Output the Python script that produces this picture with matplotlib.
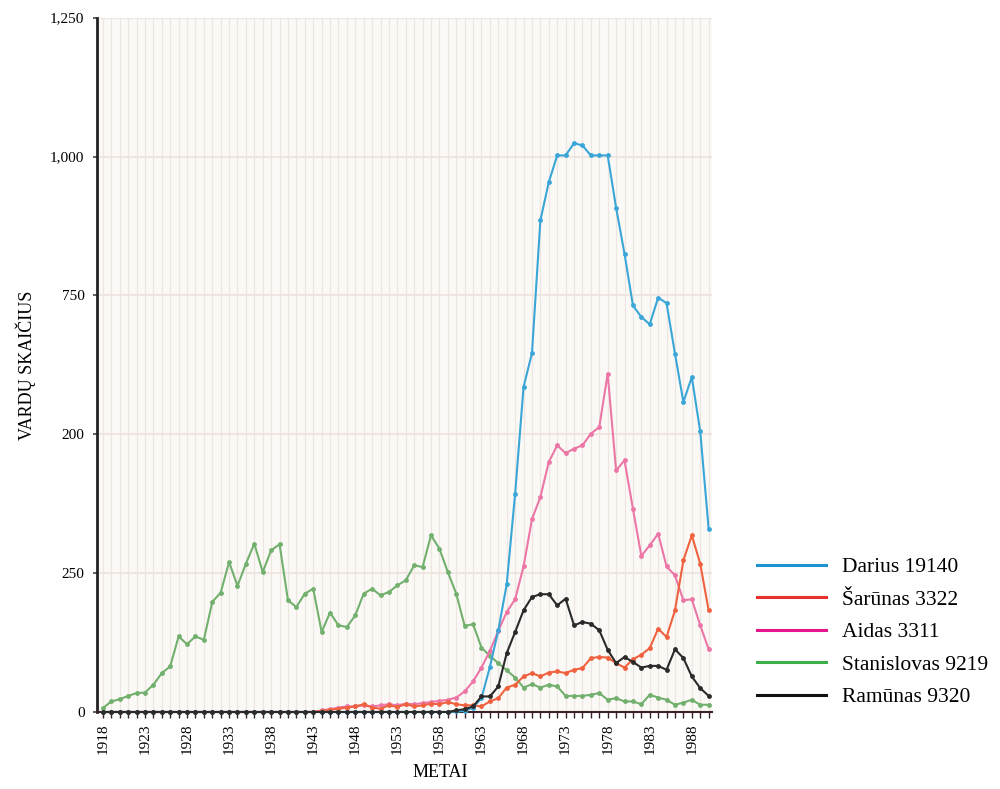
import numpy as np
import matplotlib
matplotlib.use("Agg")
import matplotlib.pyplot as plt
from matplotlib.lines import Line2D

plt.rcParams['font.family'] = ['Liberation Serif', 'DejaVu Serif']

years = list(range(1918, 1991))

# values per year, 1918..1990
darius = [0] * 42 + [
    1, 2, 8, 25, 81, 147, 230, 393, 585, 646,
    885, 954, 1002, 1002, 1024, 1020, 1002, 1002, 1002, 908,
    825, 732, 711, 698, 746, 736, 645, 558, 603, 505, 330]

sarunas = [0] * 26 + [
    2, 4, 6, 8, 10, 14, 8, 6, 12, 9, 14, 10, 12, 15, 14, 18, 14, 12, 12,
    10, 19, 25, 44, 49, 64, 70, 64, 71, 73, 70, 76, 79, 97, 99, 98,
    88, 80, 95, 103, 115, 150, 135, 183, 273, 318, 267, 183]

aidas = [0] * 26 + [
    3, 5, 8, 10, 10, 12, 10, 12, 14, 12, 15, 14, 16, 18, 20, 22, 26, 37, 55,
    80, 110, 146, 180, 203, 262, 347, 387, 450, 480, 466, 474, 480, 501, 513,
    609, 435, 453, 366, 281, 300, 321, 262, 246, 201, 203, 156, 113]

stanislovas = [
    7, 19, 23, 29, 34, 35, 49, 70, 82, 136, 122, 136, 130, 198, 215, 270,
    227, 267, 303, 252, 291, 302, 201, 189, 213, 222, 144, 179, 156, 153,
    174, 213, 222, 210, 216, 228, 237, 264, 261, 318, 294, 252, 213, 155,
    158, 116, 101, 88, 75, 62, 44, 50, 44, 49, 46, 29, 29, 29, 31, 34,
    22, 25, 19, 19, 14, 31, 26, 22, 13, 17, 22, 13, 13]

ramunas = [0] * 42 + [
    3, 5, 10, 28, 28, 46, 106, 144, 183, 207, 212, 212, 192, 204, 156, 162,
    159, 147, 112, 88, 99, 90, 80, 83, 83, 76, 113, 97, 64, 43, 29]

names = ['Darius 19140', 'Šarūnas 3322', 'Aidas 3311', 'Stanislovas 9219', 'Ramūnas 9320']
series = [darius, sarunas, aidas, stanislovas, ramunas]
line_colors = ['#3aa6d8', '#f0623f', '#ec77a6', '#72b06e', '#2a2a2a']
legend_colors = ['#1e93d2', '#e8302c', '#e8168c', '#3daf48', '#111111']

yticks = [0, 250, 500, 750, 1000, 1250]
ytick_labels = ['0', '250', '200', '750', '1,000', '1,250']

fig = plt.figure(figsize=(10, 7.89), dpi=100)
ax = fig.add_axes([0.097, 0.0976, 0.615, 0.88])
ax.set_facecolor('#fbf9f6')

# faint vertical line for every year, horizontal for the major ticks
for yr in years:
    ax.axvline(yr, color='#ede6e0', lw=0.9, zorder=0)
for v in yticks[1:]:
    ax.axhline(v, color='#eee3dd', lw=1.2, zorder=0)

order = [3, 2, 1, 0, 4]
for i in order:
    ax.plot(years, series[i], color=line_colors[i], lw=1.5, marker='o',
            markersize=2.8, markeredgewidth=0.6, clip_on=False, zorder=3)

ax.set_xlim(1917.3, 1990.4)
ax.set_ylim(0, 1250)
ax.set_yticks(yticks)
ax.set_yticklabels(ytick_labels, fontsize=11)
ax.set_xticks(years, minor=True)
ax.set_xticks(list(range(1918, 1991, 5)))
ax.set_xticklabels([str(y) for y in range(1918, 1991, 5)], rotation=90, fontsize=11)

for s in ['top', 'right']:
    ax.spines[s].set_visible(False)
ax.spines['left'].set_linewidth(2)
ax.spines['left'].set_color('#222222')
ax.spines['bottom'].set_linewidth(1.5)
ax.spines['bottom'].set_color('#3a2228')
ax.tick_params(axis='y', length=3, width=1.2, color='#444444', pad=6)
ax.tick_params(axis='x', which='both', length=4, width=1, color='#3a2228', pad=4)

ax.set_ylabel('VARDŲ SKAIČIUS', fontsize=13, labelpad=10)
ax.set_xlabel('METAI', fontsize=13)
ax.xaxis.set_label_coords(0.558, -0.075)

handles = [Line2D([0], [0], color=c, lw=2.2) for c in legend_colors]
fig.legend(handles, names, loc='upper left', bbox_to_anchor=(0.757, 0.294),
           frameon=False, fontsize=15.5, handlelength=3.2, handletextpad=0.75,
           labelspacing=0.58, borderpad=0, borderaxespad=0)

fig.savefig('out.png', dpi=100)
